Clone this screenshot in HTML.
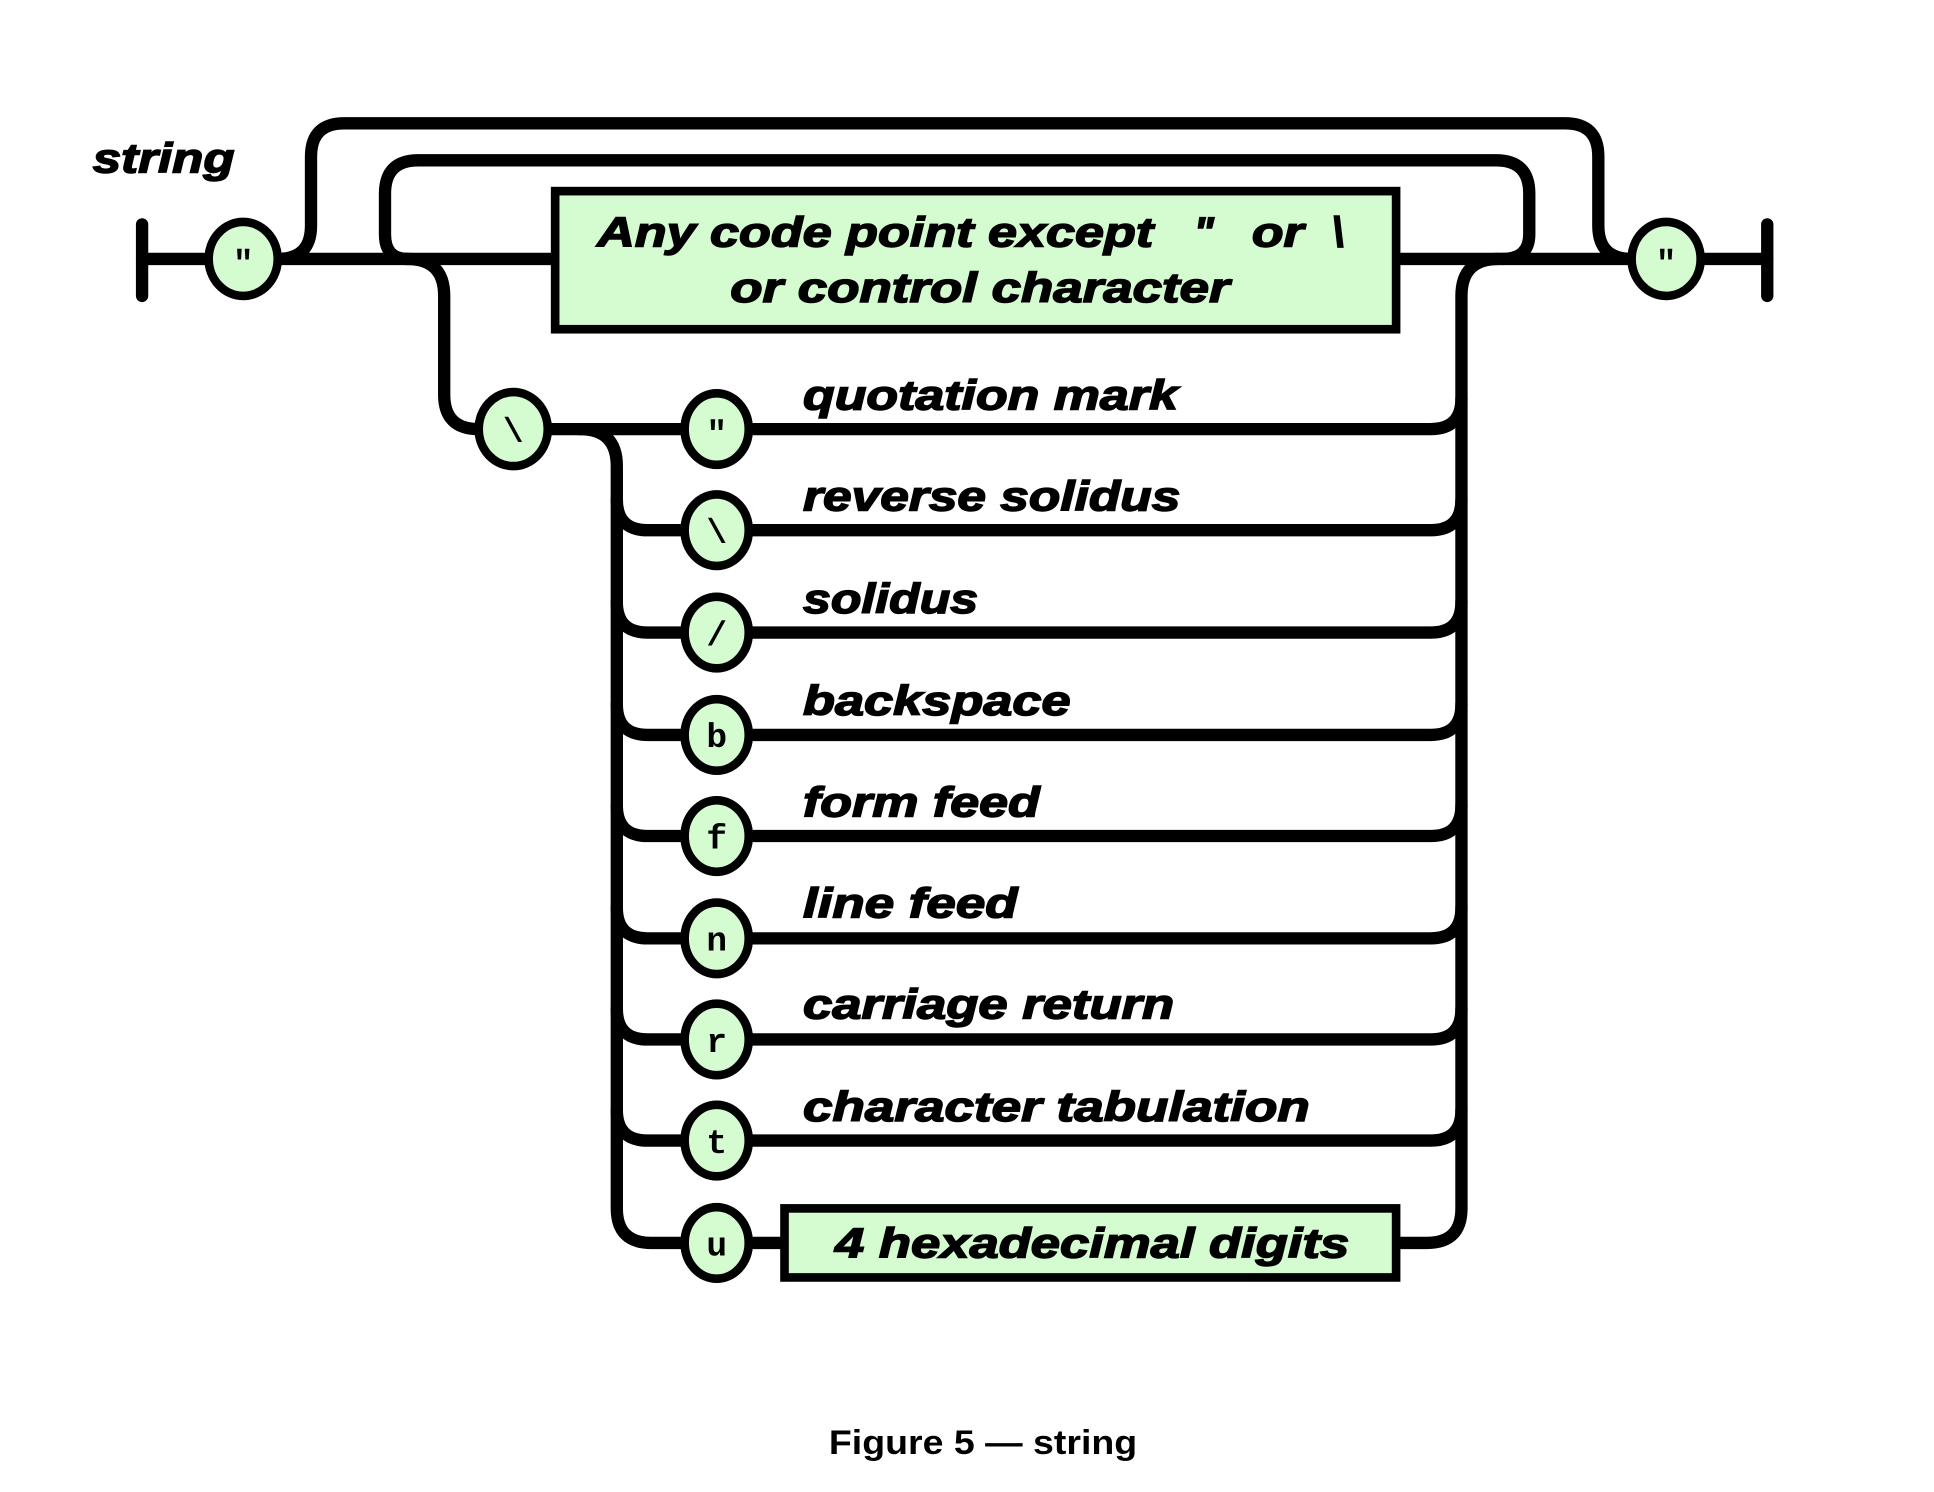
<!DOCTYPE html>
<html><head><meta charset="utf-8"><style>
html,body{margin:0;padding:0;background:#fff;}
svg{display:block;}
.l{font-family:"Liberation Sans",sans-serif;font-weight:bold;font-style:italic;font-size:34px;fill:#000;stroke:#000;stroke-width:1.2px;}
.m{font-family:"Liberation Mono",monospace;font-weight:bold;font-size:28px;fill:#000;text-anchor:middle;}
</style></head><body>
<svg width="1934" height="1492" viewBox="0 0 1568 1210" xmlns="http://www.w3.org/2000/svg">
<g fill="none" stroke="#000" stroke-width="10" stroke-linecap="round" stroke-linejoin="round">
<line x1="115" y1="182" x2="115" y2="240"/>
<line x1="1433" y1="182" x2="1433" y2="240"/>
<line x1="115" y1="210" x2="450" y2="210"/>
<line x1="1132" y1="210" x2="1433" y2="210"/>
<!-- outer loop -->
<path d="M225 210 Q252 210 252 183 L252 127 Q252 100 279 100 L1269 100 Q1296 100 1296 127 L1296 183 Q1296 210 1323 210"/>
<!-- inner loop -->
<path d="M330 210 Q312 210 312 190 L312 157 Q312 130 339 130 L1213 130 Q1240 130 1240 157 L1240 190 Q1240 210 1218 210"/>
<!-- escape branch -->
<path d="M330 210 Q360 210 360 240 L360 320 Q360 348 388 348 L555 348"/>
<!-- right vertical -->
<path d="M1215 210 Q1185 210 1185 240 L1185 980 Q1185 1008 1157 1008 L1132 1008"/>
<!-- left vertical -->
<path d="M470 348 Q500 348 500 378 L500 980 Q500 1008 528 1008 L636 1008"/>
</g>
<g fill="none" stroke="#000" stroke-width="10" stroke-linecap="round">
<path d="M555 348 L1160 348 Q1185 348 1185 323"/>
<path d="M500 405 Q500 430 525 430 L1160 430 Q1185 430 1185 405"/>
<path d="M500 488 Q500 513 525 513 L1160 513 Q1185 513 1185 488"/>
<path d="M500 571 Q500 596 525 596 L1160 596 Q1185 596 1185 571"/>
<path d="M500 653 Q500 678 525 678 L1160 678 Q1185 678 1185 653"/>
<path d="M500 736 Q500 761 525 761 L1160 761 Q1185 761 1185 736"/>
<path d="M500 818 Q500 843 525 843 L1160 843 Q1185 843 1185 818"/>
<path d="M500 900 Q500 925 525 925 L1160 925 Q1185 925 1185 900"/>
</g>
<g fill="#d5fbd1" stroke="#000" stroke-width="7">
<rect x="450" y="155" width="682" height="112"/>
<rect x="636" y="980" width="496" height="56"/>
<ellipse cx="197" cy="210" rx="28" ry="30"/>
<ellipse cx="1351" cy="210" rx="28" ry="30"/>
<ellipse cx="416" cy="348" rx="28" ry="30"/>
<ellipse cx="581" cy="348" rx="26" ry="29"/>
<ellipse cx="581" cy="430" rx="26" ry="29"/>
<ellipse cx="581" cy="513" rx="26" ry="29"/>
<ellipse cx="581" cy="596" rx="26" ry="29"/>
<ellipse cx="581" cy="678" rx="26" ry="29"/>
<ellipse cx="581" cy="761" rx="26" ry="29"/>
<ellipse cx="581" cy="843" rx="26" ry="29"/>
<ellipse cx="581" cy="925" rx="26" ry="29"/>
<ellipse cx="581" cy="1008" rx="26" ry="29"/>
</g>
<g class="m">
<text x="197" y="222">"</text>
<text x="1351" y="222">"</text>
<text x="416" y="358">\</text>
<text x="581" y="360">"</text>
<text x="581" y="440">\</text>
<text x="581" y="523">/</text>
<text x="581" y="606">b</text>
<text x="581" y="688">f</text>
<text x="581" y="771">n</text>
<text x="581" y="853">r</text>
<text x="581" y="935">t</text>
<text x="581" y="1018">u</text>
</g>
<g class="l">
<text x="75" y="140" textLength="115" lengthAdjust="spacingAndGlyphs">string</text>
<text x="484" y="200" textLength="451" lengthAdjust="spacingAndGlyphs">Any code point except</text>
<text x="968" y="200">"</text>
<text x="1015" y="200" textLength="42" lengthAdjust="spacingAndGlyphs">or</text>
<text x="1080" y="200">\</text>
<text x="592" y="245" textLength="405" lengthAdjust="spacingAndGlyphs">or control character</text>
<text x="651" y="332" textLength="304" lengthAdjust="spacingAndGlyphs">quotation mark</text>
<text x="651" y="414" textLength="306" lengthAdjust="spacingAndGlyphs">reverse solidus</text>
<text x="651" y="497" textLength="142" lengthAdjust="spacingAndGlyphs">solidus</text>
<text x="651" y="580" textLength="217" lengthAdjust="spacingAndGlyphs">backspace</text>
<text x="651" y="662" textLength="192" lengthAdjust="spacingAndGlyphs">form feed</text>
<text x="651" y="744" textLength="174" lengthAdjust="spacingAndGlyphs">line feed</text>
<text x="651" y="826" textLength="301" lengthAdjust="spacingAndGlyphs">carriage return</text>
<text x="651" y="909" textLength="411" lengthAdjust="spacingAndGlyphs">character tabulation</text>
<text x="677" y="1020" textLength="417" lengthAdjust="spacingAndGlyphs">4 hexadecimal digits</text>
</g>
<text x="672" y="1179" textLength="250" lengthAdjust="spacingAndGlyphs" style="font-family:'Liberation Sans',sans-serif;font-weight:bold;font-size:28px;">Figure 5 — string</text>
</svg>
</body></html>
